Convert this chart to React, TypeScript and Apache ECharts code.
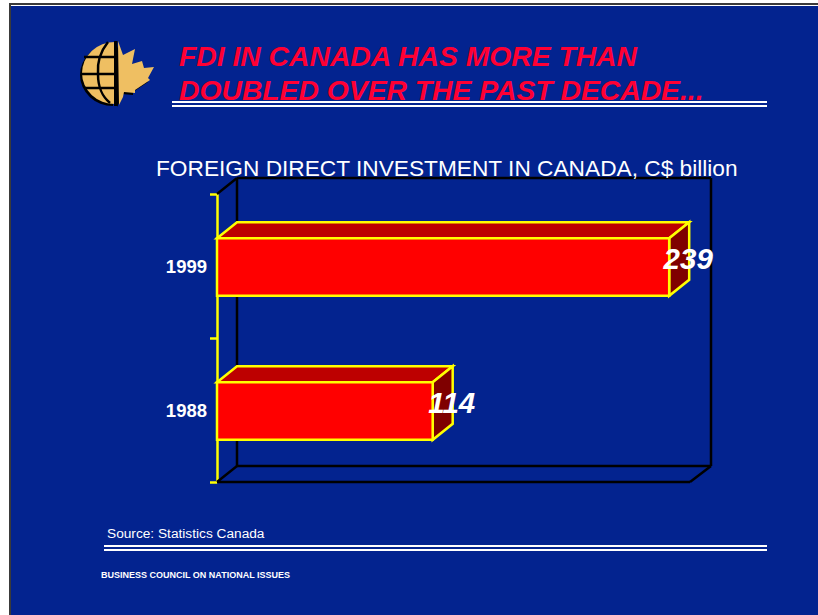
import React, { useEffect, useRef } from "react";
import * as echarts from "echarts";

const categories = ["1988", "1999"];
const investment = [114, 239];
const axisMax = 250;

const headlineLines = ["FDI IN CANADA HAS MORE THAN", "DOUBLED OVER THE PAST DECADE..."];
const chartTitle = "FOREIGN DIRECT INVESTMENT IN CANADA, C$ billion";
const sourceNote = "Source: Statistics Canada";
const footerNote = "BUSINESS COUNCIL ON NATIONAL ISSUES";

const NAVY = "#03238f";
const YELLOW = "#ffff00";
const GOLD = "#efbf62";
const DEPTH_X = 20;
const DEPTH_Y = 16;
const EDGE_WIDTH = 2.5;

// Emblem outlines: half a globe beside half a maple leaf.
echarts.graphic.registerShape("globeHalf", echarts.graphic.extendPath("M115 42 A33 31 0 0 0 115 104 Z", {}));
echarts.graphic.registerShape(
  "leafHalf",
  echarts.graphic.extendPath(
    "M117 41 L122 55 L134 49 L131 64 L141 61 L143 68 L153 67 L147 78 L149 80 L134 90 L134 93 L123 92 L122 97 L118 105 Z",
    {}
  )
);
echarts.graphic.registerShape(
  "globeGrid",
  echarts.graphic.extendPath(
    "M84 57 L114 57 M81 74 L114 74 M84 88 L114 88 M108 42 C100 52 97 62 98 74 C98 88 102 96 110 103",
    {}
  )
);

function emblem() {
  return [
    { type: "globeHalf", x: -2, y: 2, style: { fill: "#000" } },
    { type: "leafHalf", x: -1, y: 2, style: { fill: "#000" } },
    { type: "globeHalf", style: { fill: GOLD } },
    { type: "globeGrid", style: { fill: "none", stroke: "#000", lineWidth: 2.5 } },
    { type: "leafHalf", x: 1, style: { fill: GOLD } },
    { type: "rect", shape: { x: 114, y: 41, width: 3.5, height: 65 }, style: { fill: "#000" } },
  ];
}

function doubleRule(x1: number, x2: number, y1: number, y2: number) {
  return [y1, y2].map((y) => ({
    type: "rect",
    z: 20,
    shape: { x: x1, y, width: x2 - x1, height: 2 },
    style: { fill: "#ffffff" },
  }));
}

export default function App() {
  const host = useRef<HTMLDivElement>(null);

  useEffect(() => {
    document.body.style.margin = "0";
    const chart = echarts.init(host.current!, undefined, { renderer: "svg" });

    chart.setOption({
      animation: false,
      backgroundColor: "#ffffff",
      title: {
        text: chartTitle,
        left: 156,
        top: 156,
        padding: 0,
        textStyle: { color: "#ffffff", fontFamily: "Liberation Sans", fontSize: 22.7, fontWeight: "normal" },
      },
      grid: { left: 217, top: 194, width: 473, height: 288, containLabel: false },
      xAxis: { type: "value", min: 0, max: axisMax, show: false },
      yAxis: {
        type: "category",
        data: categories,
        axisLine: { lineStyle: { color: YELLOW, width: EDGE_WIDTH } },
        axisTick: { show: true, length: 7, lineStyle: { color: YELLOW, width: EDGE_WIDTH } },
        axisLabel: {
          color: "#ffffff",
          fontFamily: "Liberation Sans",
          fontWeight: "bold",
          fontSize: 18.5,
          margin: 10,
          padding: [4, 0, 0, 0],
        },
      },
      graphic: {
        elements: [
          { type: "rect", z: -3, shape: { x: 9, y: 3, width: 809, height: 612 }, style: { fill: "#3a3a3a" } },
          { type: "rect", z: -2, shape: { x: 11, y: 5, width: 807, height: 610 }, style: { fill: "#ffffff" } },
          { type: "rect", z: -1, shape: { x: 11, y: 6, width: 807, height: 609 }, style: { fill: NAVY } },
          { type: "group", z: 20, children: emblem() },
          {
            type: "text",
            z: 18,
            x: 179,
            y: 70,
            style: {
              text: headlineLines[0],
              fill: "#ff0033",
              font: "italic bold 28.3px 'Liberation Sans'",
              verticalAlign: "bottom",
            },
          },
          {
            type: "text",
            z: 18,
            x: 179,
            y: 104,
            style: {
              text: headlineLines[1],
              fill: "#ff0033",
              font: "italic bold 28.3px 'Liberation Sans'",
              verticalAlign: "bottom",
            },
          },
          ...doubleRule(172, 767, 101, 105),
          ...doubleRule(104, 767, 545, 549),
          {
            type: "text",
            z: 20,
            x: 107,
            y: 526,
            style: { text: sourceNote, fill: "#ffffff", font: "13.7px 'Liberation Sans'" },
          },
          {
            type: "text",
            z: 20,
            x: 101,
            y: 570,
            style: { text: footerNote, fill: "#ffffff", font: "bold 9px 'Liberation Sans'" },
          },
        ],
      },
      series: [
        {
          // Box of the chart's 3D frame: back wall, floor and the connecting edges.
          type: "custom",
          z: 1,
          silent: true,
          data: [[0, 0]],
          renderItem: (params: any) => {
            const { x, y, width, height } = params.coordSys;
            const r = x + width;
            const b = y + height;
            const line = (x1: number, y1: number, x2: number, y2: number) => ({
              type: "line",
              shape: { x1, y1, x2, y2 },
              style: { stroke: "#000000", lineWidth: EDGE_WIDTH, fill: "none" },
            });
            return {
              type: "group",
              children: [
                line(x + DEPTH_X, y - DEPTH_Y, r + DEPTH_X + 1, y - DEPTH_Y),
                line(x + DEPTH_X, y - DEPTH_Y, x + DEPTH_X, b - DEPTH_Y),
                line(r + DEPTH_X + 1, y - DEPTH_Y, r + DEPTH_X + 1, b - DEPTH_Y),
                line(x + DEPTH_X, b - DEPTH_Y, r + DEPTH_X + 1, b - DEPTH_Y),
                line(x, y, x + DEPTH_X, y - DEPTH_Y),
                line(x, b, x + DEPTH_X, b - DEPTH_Y),
                line(r, b, r + DEPTH_X + 1, b - DEPTH_Y),
                line(x, b, r, b),
              ],
            };
          },
        },
        {
          // Each bar is a front face plus a shaded top and side.
          type: "custom",
          z: 3,
          encode: { x: 0, y: 1 },
          data: investment.map((v, i) => [v, i]),
          renderItem: (_: any, api: any) => {
            const value = api.value(0);
            const [xEnd, yMid] = api.coord([value, api.value(1)]);
            const [xStart] = api.coord([0, api.value(1)]);
            const half = (api.size([0, 1])[1] * 0.4) / 2;
            const top = yMid - half + 1;
            const bottom = yMid + half + 1;
            const stroke = { stroke: YELLOW, lineWidth: EDGE_WIDTH, lineJoin: "miter" };
            return {
              type: "group",
              children: [
                {
                  type: "polygon",
                  shape: {
                    points: [
                      [xStart, top],
                      [xStart + DEPTH_X, top - DEPTH_Y],
                      [xEnd + DEPTH_X, top - DEPTH_Y],
                      [xEnd, top],
                    ],
                  },
                  style: { fill: "#bd0000", ...stroke },
                },
                {
                  type: "polygon",
                  shape: {
                    points: [
                      [xEnd, top],
                      [xEnd + DEPTH_X, top - DEPTH_Y],
                      [xEnd + DEPTH_X, bottom - DEPTH_Y],
                      [xEnd, bottom],
                    ],
                  },
                  style: { fill: "#7f0000", ...stroke },
                },
                {
                  type: "rect",
                  shape: { x: xStart, y: top, width: xEnd - xStart, height: bottom - top },
                  style: { fill: "#ff0000", ...stroke },
                },
                {
                  type: "text",
                  style: {
                    text: String(value),
                    x: xEnd + 19,
                    y: yMid - 8,
                    fill: "#ffffff",
                    font: "italic bold 29.5px 'Liberation Sans'",
                    align: "center",
                    verticalAlign: "middle",
                  },
                },
              ],
            };
          },
        },
      ],
    });

    return () => chart.dispose();
  }, []);

  return <div ref={host} style={{ position: "absolute", left: 0, top: 0, width: 818, height: 615 }} />;
}
